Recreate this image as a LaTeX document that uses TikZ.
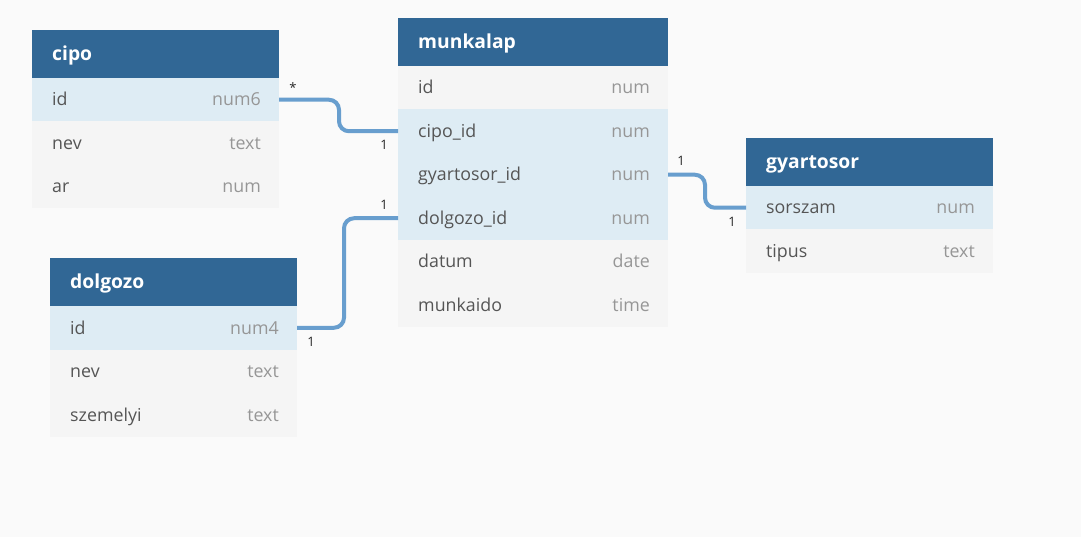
\documentclass[tikz,border=0pt]{standalone}
\usepackage{fontspec}
\setmainfont{Open Sans}
\usetikzlibrary{positioning}

\definecolor{hdrblue}{RGB}{49,103,149}
\definecolor{keyfill}{RGB}{222,236,244}
\definecolor{fldfill}{RGB}{245,245,245}
\definecolor{bgcol}{RGB}{250,250,250}
\definecolor{linkblue}{RGB}{104,158,206}
\definecolor{fldgray}{RGB}{85,85,85}
\definecolor{typgray}{RGB}{150,150,150}

\tikzset{
  tblhead/.style={fill=hdrblue, minimum height=48, inner sep=0, outer sep=0, anchor=north west},
  keyrow/.style={fill=keyfill, minimum height=43.5, inner sep=0, outer sep=0},
  fldrow/.style={fill=fldfill, minimum height=43.5, inner sep=0, outer sep=0},
  headtext/.style={text=white, inner sep=0, font=\fontsize{19.3}{22}\selectfont\bfseries, text height=15, text depth=2},
  fldtext/.style={text=fldgray, inner sep=0, text height=14, text depth=1.5},
  typtext/.style={text=typgray, inner sep=0, text height=14, text depth=1.5},
  link/.style={linkblue, line width=4, rounded corners=10},
  card/.style={inner sep=0, font=\fontsize{13}{15}\selectfont, text=black!85}
}

\begin{document}
\begin{tikzpicture}[x=1pt, y=-1pt, font=\fontsize{17.8}{20}\selectfont]
\fill[bgcol] (0,0) rectangle (1081,537);
\useasboundingbox (0,0) rectangle (1081,537);

% cipo
\node[tblhead, minimum width=247] (cipo) at (32,30) {};
\node[headtext, right=20pt of cipo.west] (cipo-t) {cipo};
\node[keyrow, minimum width=247, below=0pt of cipo] (cipo-id) {};
\node[fldtext, right=20pt of cipo-id.west] {id};
\node[typtext, left=18pt of cipo-id.east] {num6};
\node[fldrow, minimum width=247, below=0pt of cipo-id] (cipo-nev) {};
\node[fldtext, right=20pt of cipo-nev.west] {nev};
\node[typtext, left=18pt of cipo-nev.east] {text};
\node[fldrow, minimum width=247, below=0pt of cipo-nev] (cipo-ar) {};
\node[fldtext, right=20pt of cipo-ar.west] {ar};
\node[typtext, left=18pt of cipo-ar.east] {num};

% munkalap
\node[tblhead, minimum width=270] (mk) at (398,18) {};
\node[headtext, right=20pt of mk.west] (mk-t) {munkalap};
\node[fldrow, minimum width=270, below=0pt of mk] (mk-id) {};
\node[fldtext, right=20pt of mk-id.west] {id};
\node[typtext, left=18pt of mk-id.east] {num};
\node[keyrow, minimum width=270, below=0pt of mk-id] (mk-cipo) {};
\node[fldtext, right=20pt of mk-cipo.west] {cipo\_id};
\node[typtext, left=18pt of mk-cipo.east] {num};
\node[keyrow, minimum width=270, below=0pt of mk-cipo] (mk-gyartosor) {};
\node[fldtext, right=20pt of mk-gyartosor.west] {gyartosor\_id};
\node[typtext, left=18pt of mk-gyartosor.east] {num};
\node[keyrow, minimum width=270, below=0pt of mk-gyartosor] (mk-dolgozo) {};
\node[fldtext, right=20pt of mk-dolgozo.west] {dolgozo\_id};
\node[typtext, left=18pt of mk-dolgozo.east] {num};
\node[fldrow, minimum width=270, below=0pt of mk-dolgozo] (mk-datum) {};
\node[fldtext, right=20pt of mk-datum.west] {datum};
\node[typtext, left=18pt of mk-datum.east] {date};
\node[fldrow, minimum width=270, below=0pt of mk-datum] (mk-munkaido) {};
\node[fldtext, right=20pt of mk-munkaido.west] {munkaido};
\node[typtext, left=18pt of mk-munkaido.east] {time};

% gyartosor
\node[tblhead, minimum width=247] (gy) at (746,138) {};
\node[headtext, right=20pt of gy.west] (gy-t) {gyartosor};
\node[keyrow, minimum width=247, below=0pt of gy] (gy-sorszam) {};
\node[fldtext, right=20pt of gy-sorszam.west] {sorszam};
\node[typtext, left=18pt of gy-sorszam.east] {num};
\node[fldrow, minimum width=247, below=0pt of gy-sorszam] (gy-tipus) {};
\node[fldtext, right=20pt of gy-tipus.west] {tipus};
\node[typtext, left=18pt of gy-tipus.east] {text};

% dolgozo
\node[tblhead, minimum width=247] (dg) at (50,258) {};
\node[headtext, right=20pt of dg.west] (dg-t) {dolgozo};
\node[keyrow, minimum width=247, below=0pt of dg] (dg-id) {};
\node[fldtext, right=20pt of dg-id.west] {id};
\node[typtext, left=18pt of dg-id.east] {num4};
\node[fldrow, minimum width=247, below=0pt of dg-id] (dg-nev) {};
\node[fldtext, right=20pt of dg-nev.west] {nev};
\node[typtext, left=18pt of dg-nev.east] {text};
\node[fldrow, minimum width=247, below=0pt of dg-nev] (dg-szemelyi) {};
\node[fldtext, right=20pt of dg-szemelyi.west] {szemelyi};
\node[typtext, left=18pt of dg-szemelyi.east] {text};

% kapcsolatok
\draw[link] (cipo-id.east) -- ++(60,0) |- (mk-cipo.west);
\draw[link] (dg-id.east) -- ++(47,0) |- (mk-dolgozo.west);
\draw[link] (mk-gyartosor.east) -- ++(37,0) |- (gy-sorszam.west);

\node[card] at ([xshift=14pt, yshift=12pt]cipo-id.east) {*};
\node[card] at ([xshift=-14pt, yshift=-13.5pt]mk-cipo.west) {1};
\node[card] at ([xshift=-14pt, yshift=13.5pt]mk-dolgozo.west) {1};
\node[card] at ([xshift=14pt, yshift=-14pt]dg-id.east) {1};
\node[card] at ([xshift=13pt, yshift=13.5pt]mk-gyartosor.east) {1};
\node[card] at ([xshift=-14pt, yshift=-14pt]gy-sorszam.west) {1};

\end{tikzpicture}
\end{document}
